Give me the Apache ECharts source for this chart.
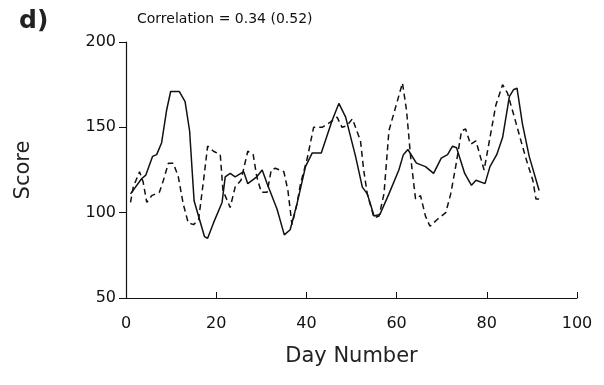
<!DOCTYPE html>
<html>
<head>
<meta charset="utf-8">
<script src="https://cdn.jsdelivr.net/npm/echarts@6/dist/echarts.min.js"></script>
<style>
  html, body { margin: 0; padding: 0; background: #fff; }
  #chart { width: 604px; height: 385px; }
</style>
</head>
<body>
<div id="chart"></div>
<script>
// solid line: [day, score]
const solidSeries = [
  [1.0, 111], [3.5, 120], [4.4, 122], [5.9, 133], [6.8, 134], [7.9, 141],
  [9.0, 160], [9.9, 171], [11.8, 171], [13.1, 165], [14.1, 148], [15.1, 107],
  [16.3, 96], [17.4, 86], [18.1, 85], [19.4, 94], [21.3, 106], [22.0, 121],
  [23.1, 123], [24.2, 121], [26.1, 124], [27.0, 117], [29.0, 121], [30.2, 125],
  [31.3, 117], [33.5, 102], [35.1, 87], [36.4, 90], [37.9, 105], [39.8, 127],
  [41.3, 135], [43.3, 135], [45.7, 154], [47.2, 164], [48.7, 156], [50.9, 133],
  [52.4, 115], [53.5, 111], [55.0, 98], [56.3, 99], [58.3, 111], [60.5, 125],
  [61.5, 134], [62.5, 137], [64.4, 129], [66.4, 127], [68.2, 123], [69.9, 132],
  [71.3, 134], [72.4, 139], [73.3, 138], [75.1, 123], [76.6, 116], [77.6, 119],
  [79.6, 117], [80.7, 127], [82.2, 134], [83.5, 144], [85.0, 168], [85.9, 172],
  [86.7, 173], [87.9, 152], [89.4, 133], [91.6, 113]
];
// dashed line: [day, score]
const dashedSeries = [
  [1.0, 106], [1.6, 115], [3.0, 124], [3.8, 118], [4.6, 106], [5.7, 110],
  [7.4, 112], [8.3, 119], [9.4, 129], [10.5, 129], [11.6, 121], [12.7, 105],
  [13.8, 94], [15.0, 93], [16.1, 96], [17.2, 119], [18.1, 139], [19.4, 136],
  [20.9, 134], [21.5, 113], [23.1, 103], [24.2, 115], [25.5, 119], [27.0, 136],
  [28.2, 134], [29.0, 121], [30.0, 112], [31.3, 112], [32.2, 125], [33.1, 126],
  [35.0, 124], [35.9, 113], [36.8, 93], [37.9, 105], [38.7, 117], [40.2, 132],
  [41.6, 150], [43.5, 150], [45.3, 153], [46.8, 156], [47.9, 150], [49.0, 151],
  [50.2, 155], [52.0, 142], [52.7, 125], [53.5, 111], [55.0, 97], [56.1, 98],
  [57.2, 111], [58.3, 148], [59.8, 162], [61.3, 176], [62.2, 160], [63.1, 133],
  [64.2, 108], [65.3, 110], [66.4, 98], [67.4, 92], [69.0, 96], [70.9, 100],
  [72.0, 111], [73.1, 127], [74.4, 148], [75.3, 149], [76.4, 140], [77.6, 142],
  [79.4, 125], [80.5, 141], [82.0, 163], [83.5, 175], [84.6, 170], [85.9, 158],
  [87.9, 139], [89.0, 129], [90.2, 119], [90.9, 108], [91.6, 108]
];
const xTicks = [0, 20, 40, 60, 80, 100];
const yTicks = [50, 100, 150, 200];
const titleText = 'Correlation = 0.34 (0.52)';

const chart = echarts.init(document.getElementById('chart'));
const font = 'DejaVu Sans';
chart.setOption({
  animation: false,
  backgroundColor: '#fff',
  title: [
    {
      text: 'd)', left: 14, top: 4,
      textStyle: { fontFamily: font, fontSize: 25, fontWeight: 'bold', color: '#222' }
    },
    {
      text: titleText, left: 132, top: 7,
      textStyle: { fontFamily: font, fontSize: 14, fontWeight: 'normal', color: '#111' }
    }
  ],
  grid: { left: 126, right: 27, top: 42, bottom: 87 },
  xAxis: {
    type: 'value',
    min: xTicks[0],
    max: xTicks[xTicks.length - 1],
    interval: 20,
    name: 'Day Number',
    nameLocation: 'middle',
    nameGap: 48,
    nameTextStyle: { fontFamily: font, fontSize: 21, color: '#222' },
    axisLine: { lineStyle: { color: '#111', width: 1.2 } },
    axisTick: { inside: true, length: 6, lineStyle: { color: '#111' } },
    axisLabel: { fontFamily: font, fontSize: 16, color: '#111', margin: 18 },
    splitLine: { show: false }
  },
  yAxis: {
    type: 'value',
    min: yTicks[0],
    max: yTicks[yTicks.length - 1],
    interval: 50,
    name: 'Score',
    nameLocation: 'middle',
    nameGap: 92,
    nameTextStyle: { fontFamily: font, fontSize: 21, color: '#222' },
    axisLine: { show: true, lineStyle: { color: '#111', width: 1.2 } },
    axisTick: { show: true, length: 7, lineStyle: { color: '#111' } },
    axisLabel: { fontFamily: font, fontSize: 16, color: '#111', margin: 10 },
    splitLine: { show: false }
  },
  series: [
    {
      type: 'line', data: solidSeries, showSymbol: false,
      lineStyle: { color: '#111', width: 1.5 }
    },
    {
      type: 'line', data: dashedSeries, showSymbol: false,
      lineStyle: { color: '#111', width: 1.5, type: [6, 4] }
    }
  ]
});
</script>
</body>
</html>
